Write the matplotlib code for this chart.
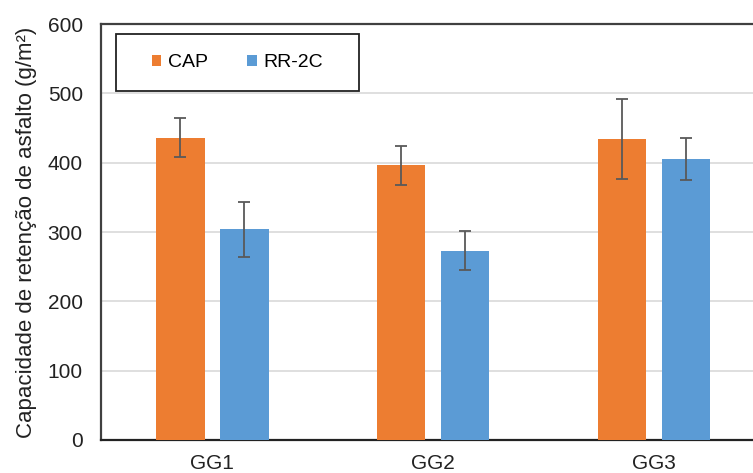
import numpy as np
import matplotlib.pyplot as plt
from matplotlib.patches import Rectangle

plt.rcParams['font.family'] = ['Liberation Sans', 'DejaVu Sans']

grupos = ["GG1", "GG2", "GG3"]
cap = [436, 396, 434]
cap_err = [28, 28, 58]
rr2c = [304, 273, 405]
rr2c_err = [40, 28, 30]
yticks = [0, 100, 200, 300, 400, 500, 600]

cor_cap = "#ED7D31"
cor_rr = "#5B9BD5"

fig = plt.figure(figsize=(7.53, 4.73), dpi=100)
ax = fig.add_axes([0.134, 0.070, 0.881, 0.879])

x = np.arange(len(grupos))
larg = 0.22
err_kw = dict(ecolor="#595959", elinewidth=1.3, capsize=4, capthick=1.3)
ax.bar(x - 0.145, cap, larg, yerr=cap_err, color=cor_cap, label="CAP", error_kw=err_kw, zorder=3)
ax.bar(x + 0.145, rr2c, larg, yerr=rr2c_err, color=cor_rr, label="RR-2C", error_kw=err_kw, zorder=3)

ax.set_xlim(-0.505, 2.5)
ax.set_ylim(0, 600)
ax.set_yticks(yticks)
ax.set_xticks(x)
ax.set_xticklabels(grupos)
ax.tick_params(axis="both", length=0, labelsize=15, colors="#222222")
ax.tick_params(axis="x", pad=10)
ax.tick_params(axis="y", pad=13)
ax.yaxis.grid(True, color="#d9d9d9", linewidth=1.2, zorder=0)
ax.set_axisbelow(True)

for s in ["top", "left"]:
    ax.spines[s].set_color("#404040")
    ax.spines[s].set_linewidth(1.6)
ax.spines["bottom"].set_color("#222222")
ax.spines["bottom"].set_linewidth(1.6)
ax.spines["right"].set_visible(False)

ax.set_ylabel("Capacidade de retenção de asfalto (g/m²)", fontsize=16, color="#222222", labelpad=8)

# moldura da legenda desenhada a parte
caixa = (0.0226, 0.839, 0.366, 0.137)
ax.add_patch(Rectangle(caixa[:2], caixa[2], caixa[3], transform=ax.transAxes, fill=True,
                       facecolor="white", edgecolor="#222222", linewidth=1.3, zorder=5))
leg = ax.legend(loc="center", bbox_to_anchor=(caixa[0] + caixa[2] / 2, caixa[1] + caixa[3] / 2),
                ncol=2, fontsize=14, frameon=False,
                handlelength=0.5, handleheight=0.5, handletextpad=0.35, columnspacing=2.0)
leg.set_zorder(6)

fig.savefig("out.png", dpi=100)
